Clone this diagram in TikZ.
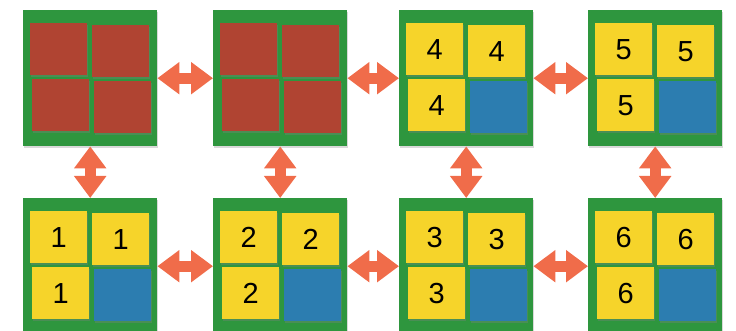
\documentclass[tikz,border=0pt]{standalone}
\usepackage{fontspec}
\setmainfont{Liberation Sans}
\usetikzlibrary{arrows.meta,shadows}

\definecolor{felt}{RGB}{46,150,62}
\definecolor{brick}{RGB}{176,68,50}
\definecolor{sticky}{RGB}{246,212,42}
\definecolor{slate}{RGB}{44,125,176}
\definecolor{coral}{RGB}{240,108,74}

% board: position, name, colour of three tiles, their number, colour of the fourth
\newcommand{\board}[5]{%
  \node[feltbox] (#2) at (#1) {};
  \node[tile, fill=#3] (#2-1) at ([shift={(7,13)}]#2.north west) {#4};
  \node[tile, fill=#3] (#2-2) at ([shift={(69,15)}]#2.north west) {#4};
  \node[tile, fill=#3] (#2-3) at ([shift={(9,69)}]#2.north west) {#4};
  \node[tile, fill=#5] (#2-4) at ([shift={(71,71)}]#2.north west) {};
}

\begin{document}
\begin{tikzpicture}[x=1pt, y=-1pt,
    feltbox/.style={anchor=north west, fill=felt, inner sep=0pt,
      minimum width=134pt, minimum height=136pt,
      drop shadow={opacity=0.3, shadow xshift=1pt, shadow yshift=-2pt}},
    tile/.style={anchor=north west, inner sep=0pt, minimum width=57pt, minimum height=52pt,
      font=\fontsize{29}{29}\selectfont,
      drop shadow={opacity=0.35, shadow xshift=1pt, shadow yshift=-2pt}},
    swap/.style={draw=coral, line width=11pt,
      {Triangle[length=22pt,width=31pt]}-{Triangle[length=22pt,width=31pt]}}]
    \useasboundingbox (0,0) rectangle (736,331);
    \board{23,10}{b1}{brick}{}{brick}
    \board{213,10}{b2}{brick}{}{brick}
    \board{399,10}{b3}{sticky}{4}{slate}
    \board{588,10}{b4}{sticky}{5}{slate}
    \board{23,198}{b5}{sticky}{1}{slate}
    \board{213,198}{b6}{sticky}{2}{slate}
    \board{399,198}{b7}{sticky}{3}{slate}
    \board{588,198}{b8}{sticky}{6}{slate}
    \draw[swap] (b1.east) -- (b2.west);
    \draw[swap] (b2.east) -- (b3.west);
    \draw[swap] (b3.east) -- (b4.west);
    \draw[swap] (b5.east) -- (b6.west);
    \draw[swap] (b6.east) -- (b7.west);
    \draw[swap] (b7.east) -- (b8.west);
    \draw[swap] (b1.south) -- (b5.north);
    \draw[swap] (b2.south) -- (b6.north);
    \draw[swap] (b3.south) -- (b7.north);
    \draw[swap] (b4.south) -- (b8.north);
\end{tikzpicture}
\end{document}
